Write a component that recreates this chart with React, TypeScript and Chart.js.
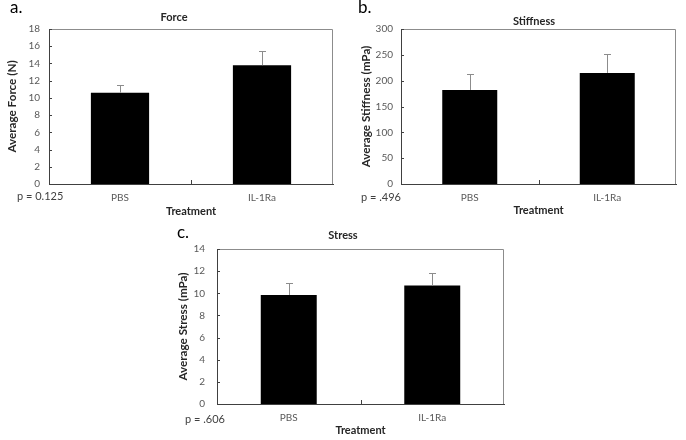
import React, { useEffect, useRef } from 'react';
import { Chart, registerables } from 'chart.js';

Chart.register(...registerables);

// ---------- data ----------
const categories = ['PBS', 'IL-1Ra'];

const forceMeans = [10.6, 13.8];
const forceErrTops = [11.5, 15.5];

const stiffnessMeans = [182, 215];
const stiffnessErrTops = [213, 251];

const stressMeans = [9.85, 10.7];
const stressErrTops = [10.95, 11.85];

const panelLetters = ['a.', 'b.', 'c.'];
const panelTitles = ['Force', 'Stiffness', 'Stress'];
const yAxisTitles = ['Average Force (N)', 'Average Stiffness (mPa)', 'Average Stress (mPa)'];
const pValueLabels = ['p = 0.125', 'p = .496', 'p = .606'];
const yMaxes = [18, 300, 14];
const ySteps = [2, 50, 2];
const xAxisTitle = 'Treatment';

const panelMeans = [forceMeans, stiffnessMeans, stressMeans];
const panelErrTops = [forceErrTops, stiffnessErrTops, stressErrTops];

// ---------- layout / style ----------
const FONT = 'Lato, "Open Sans", "Noto Sans", sans-serif';

const layouts = [
  { left: 0, top: 0, w: 343, h: 220, yW: 49, padR: 10, padT: 29, xH: 36, barPct: 0.41, yTickPad: 9,
    titleX: 174, titleY: 17, letterX: 10, letterY: 13, pX: 17, pY: 200, yTitleOff: 5.4, xTitleOff: 2.4 },
  { left: 343, top: 0, w: 343, h: 220, yW: 58, padR: 10, padT: 29, xH: 36, barPct: 0.40, yTickPad: 8,
    titleX: 191, titleY: 21, letterX: 15, letterY: 13, pX: 18, pY: 201, yTitleOff: 16.4, xTitleOff: 3.4 },
  { left: 150, top: 215, w: 400, h: 225, yW: 67, padR: 46, padT: 34, xH: 36, barPct: 0.39, yTickPad: 12,
    titleX: 193, titleY: 20, letterX: 27, letterY: 23, pX: 35, pY: 208, yTitleOff: 26.4, xTitleOff: 3.4 },
];

function makeDecoPlugin(i: number) {
  const L = layouts[i];
  return {
    id: 'deco' + i,
    afterDatasetsDraw(chart: any) {
      const ctx = chart.ctx;
      const yScale = chart.scales.y;
      const meta = chart.getDatasetMeta(0);
      ctx.save();
      ctx.strokeStyle = '#8c8c8c';
      ctx.lineWidth = 1;
      meta.data.forEach((el: any, k: number) => {
        const x = Math.round(el.x) + 0.5;
        const yT = Math.round(yScale.getPixelForValue(panelErrTops[i][k])) + 0.5;
        const yB = el.y;
        ctx.beginPath();
        ctx.moveTo(x, yB);
        ctx.lineTo(x, yT);
        ctx.moveTo(x - 3.5, yT);
        ctx.lineTo(x + 3.5, yT);
        ctx.stroke();
      });
      ctx.restore();
    },
    afterDraw(chart: any) {
      const ctx = chart.ctx;
      const { left, right, top, bottom } = chart.chartArea;
      const xScale = chart.scales.x;
      const yScale = chart.scales.y;
      ctx.save();
      // frame (top & right)
      ctx.strokeStyle = '#8c8c8c';
      ctx.lineWidth = 1;
      ctx.beginPath();
      ctx.moveTo(left, Math.round(top) + 0.5);
      ctx.lineTo(Math.round(right) - 0.5, Math.round(top) + 0.5);
      ctx.lineTo(Math.round(right) - 0.5, bottom);
      ctx.stroke();
      // inward tick marks
      ctx.strokeStyle = '#404040';
      ctx.beginPath();
      yScale.ticks.forEach((t: any) => {
        if (t.value === 0) return;
        const y = Math.round(yScale.getPixelForValue(t.value)) + 0.5;
        ctx.moveTo(left, y);
        ctx.lineTo(left + 3, y);
      });
      const xm = Math.round((xScale.getPixelForValue(0) + xScale.getPixelForValue(1)) / 2) + 0.5;
      ctx.moveTo(xm, bottom);
      ctx.lineTo(xm, bottom - 4);
      ctx.stroke();
      // chart title
      ctx.fillStyle = '#262626';
      ctx.font = `bold 11px ${FONT}`;
      ctx.textAlign = 'center';
      ctx.textBaseline = 'middle';
      ctx.fillText(panelTitles[i], L.titleX, L.titleY);
      // panel letter
      ctx.fillStyle = '#000000';
      ctx.font = `17px ${FONT}`;
      ctx.textAlign = 'left';
      ctx.textBaseline = 'alphabetic';
      ctx.fillText(panelLetters[i], L.letterX, L.letterY);
      // p value
      ctx.fillStyle = '#404040';
      ctx.font = `11px ${FONT}`;
      ctx.fillText(pValueLabels[i], L.pX, L.pY);
      ctx.restore();
    },
  };
}

function Panel({ i }: { i: number }) {
  const ref = useRef<HTMLCanvasElement | null>(null);
  useEffect(() => {
    if (!ref.current) return;
    const L = layouts[i];
    const chart = new Chart(ref.current, {
      type: 'bar',
      data: {
        labels: categories,
        datasets: [
          {
            data: panelMeans[i],
            backgroundColor: '#000000',
            borderWidth: 0,
            categoryPercentage: 1,
            barPercentage: L.barPct,
          },
        ],
      },
      options: {
        animation: false,
        responsive: false,
        maintainAspectRatio: false,
        devicePixelRatio: 1,
        layout: { padding: { top: L.padT, right: L.padR, left: 0, bottom: 0 } },
        plugins: {
          legend: { display: false },
          tooltip: { enabled: false },
          title: { display: false },
        },
        scales: {
          x: {
            type: 'category',
            offset: true,
            grid: { display: false, drawTicks: false },
            border: { display: true, color: '#404040', width: 1 },
            ticks: { padding: 8, color: '#595959', font: { family: FONT, size: 10 }, maxRotation: 0 },
            title: {
              display: true,
              text: xAxisTitle,
              color: '#262626',
              font: { family: FONT, size: 11, weight: 'bold' },
              padding: { top: 0, bottom: L.xTitleOff },
            },
            afterFit: (s: any) => { s.height = L.xH; },
          },
          y: {
            min: 0,
            max: yMaxes[i],
            grid: { display: false, drawTicks: false },
            border: { display: true, color: '#404040', width: 1 },
            ticks: { stepSize: ySteps[i], padding: L.yTickPad, color: '#595959', font: { family: FONT, size: 10 } },
            title: {
              display: true,
              text: yAxisTitles[i],
              color: '#262626',
              font: { family: FONT, size: 11.7, weight: 'bold' },
              padding: { top: L.yTitleOff, bottom: 0 },
            },
            afterFit: (s: any) => { s.width = L.yW; },
          },
        },
      } as any,
      plugins: [makeDecoPlugin(i)],
    });
    return () => chart.destroy();
  }, [i]);
  const L = layouts[i];
  return (
    <canvas
      ref={ref}
      width={L.w}
      height={L.h}
      style={{ position: 'absolute', left: L.left, top: L.top, width: L.w, height: L.h }}
    />
  );
}

export default function App() {
  return (
    <div style={{ position: 'absolute', left: 0, top: 0, width: 686, height: 440, background: '#ffffff', overflow: 'hidden' }}>
      <Panel i={0} />
      <Panel i={1} />
      <Panel i={2} />
    </div>
  );
}
